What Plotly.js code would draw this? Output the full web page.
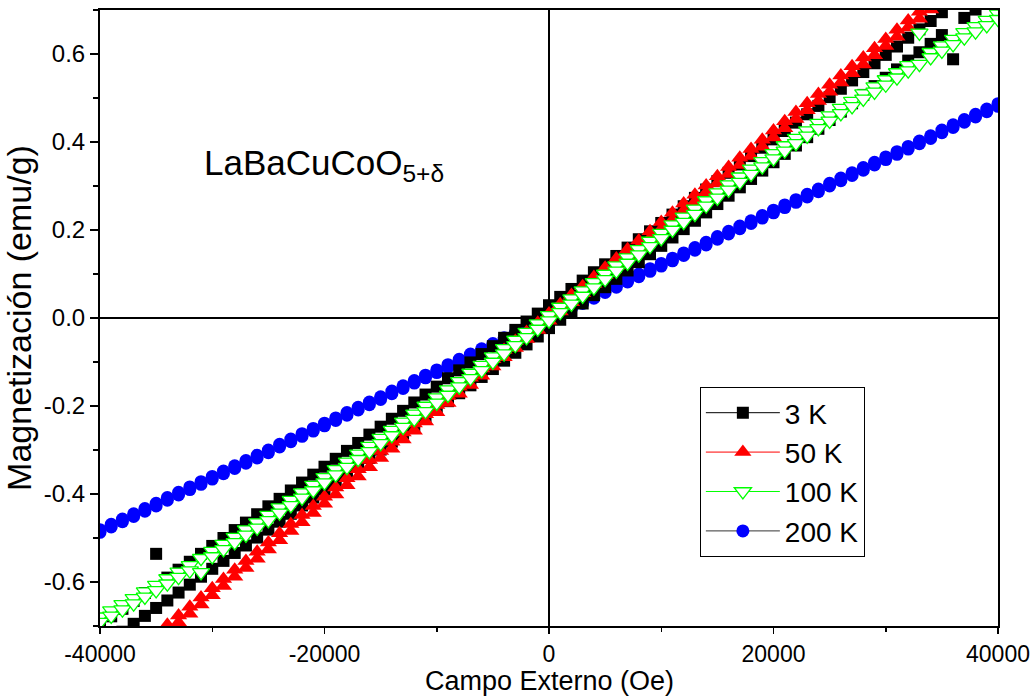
<!DOCTYPE html>
<html>
<head>
<meta charset="utf-8">
<script src="https://cdn.plot.ly/plotly-3.0.1.min.js"></script>
<style>html,body{margin:0;padding:0;background:#fff;}#chart{width:1036px;height:697px;}</style>
</head>
<body>
<div id="chart"></div>
<script>
// Applied field (Oe), ascending
const fieldOe = [-40000,-39000,-38000,-37000,-36000,-35000,-34000,-33000,-32000,-31000,-30000,-29000,-28000,-27000,-26000,-25000,-24000,-23000,-22000,-21000,-20000,-19000,-18000,-17000,-16000,-15000,-14000,-13000,-12000,-11000,-10000,-9000,-8000,-7000,-6000,-5000,-4000,-3000,-2000,-1000,0,1000,2000,3000,4000,5000,6000,7000,8000,9000,10000,11000,12000,13000,14000,15000,16000,17000,18000,19000,20000,21000,22000,23000,24000,25000,26000,27000,28000,29000,30000,31000,32000,33000,34000,35000,36000,37000,38000,39000,40000];

// 3 K: descending-field branch (upper) and ascending-field branch (lower), listed at ascending field
const m3K_down = [-0.696,-0.678,-0.661,-0.643,-0.625,-0.536,-0.590,-0.572,-0.554,-0.536,-0.518,-0.500,-0.482,-0.465,-0.446,-0.428,-0.411,-0.392,-0.374,-0.356,-0.338,-0.320,-0.302,-0.284,-0.265,-0.247,-0.229,-0.211,-0.192,-0.174,-0.156,-0.137,-0.119,-0.101,-0.082,-0.064,-0.045,-0.027,-0.008,0.010,0.029,0.048,0.066,0.085,0.104,0.122,0.141,0.160,0.179,0.197,0.216,0.235,0.254,0.273,0.292,0.311,0.330,0.349,0.368,0.387,0.406,0.425,0.444,0.463,0.482,0.502,0.521,0.540,0.559,0.579,0.598,0.617,0.637,0.656,0.675,0.695,0.714,0.734,0.753,0.773,0.792];
const m3K_up = [-0.748,-0.730,-0.713,-0.695,-0.677,-0.659,-0.642,-0.624,-0.606,-0.588,-0.570,-0.552,-0.534,-0.517,-0.499,-0.481,-0.463,-0.445,-0.426,-0.408,-0.390,-0.372,-0.354,-0.336,-0.318,-0.299,-0.281,-0.263,-0.245,-0.226,-0.208,-0.189,-0.171,-0.153,-0.134,-0.116,-0.097,-0.079,-0.060,-0.042,-0.023,-0.004,0.014,0.033,0.052,0.070,0.089,0.108,0.127,0.145,0.164,0.183,0.202,0.221,0.240,0.259,0.278,0.297,0.316,0.335,0.354,0.373,0.392,0.411,0.430,0.450,0.469,0.488,0.507,0.527,0.546,0.565,0.585,0.604,0.623,0.643,0.588,0.682,0.701,0.721,0.740];

// 50 K
const m50K_down = [-0.822,-0.801,-0.780,-0.760,-0.739,-0.718,-0.697,-0.676,-0.656,-0.635,-0.614,-0.593,-0.572,-0.552,-0.531,-0.510,-0.489,-0.468,-0.448,-0.427,-0.406,-0.385,-0.364,-0.344,-0.323,-0.302,-0.281,-0.260,-0.240,-0.219,-0.198,-0.177,-0.156,-0.136,-0.115,-0.094,-0.073,-0.052,-0.032,-0.011,0.010,0.031,0.052,0.072,0.093,0.114,0.135,0.156,0.176,0.197,0.218,0.239,0.260,0.280,0.301,0.322,0.343,0.364,0.384,0.405,0.426,0.447,0.468,0.488,0.509,0.530,0.551,0.572,0.592,0.613,0.634,0.655,0.676,0.696,0.717,0.738,0.759,0.780,0.800,0.821,0.842];
const m50K_up = [-0.838,-0.817,-0.796,-0.776,-0.755,-0.734,-0.713,-0.692,-0.672,-0.651,-0.630,-0.609,-0.588,-0.568,-0.547,-0.526,-0.505,-0.484,-0.464,-0.443,-0.422,-0.401,-0.380,-0.360,-0.339,-0.318,-0.297,-0.276,-0.256,-0.235,-0.214,-0.193,-0.172,-0.152,-0.131,-0.110,-0.089,-0.068,-0.048,-0.027,-0.006,0.015,0.036,0.056,0.077,0.098,0.119,0.140,0.160,0.181,0.202,0.223,0.244,0.264,0.285,0.306,0.327,0.348,0.368,0.389,0.410,0.431,0.452,0.472,0.493,0.514,0.535,0.556,0.576,0.597,0.618,0.639,0.660,0.680,0.701,0.722,0.743,0.764,0.784,0.805,0.826];

// 100 K
const m100K_down = [-0.679,-0.665,-0.651,-0.637,-0.622,-0.607,-0.592,-0.577,-0.562,-0.546,-0.530,-0.514,-0.498,-0.481,-0.465,-0.448,-0.431,-0.414,-0.397,-0.380,-0.362,-0.344,-0.327,-0.309,-0.291,-0.273,-0.255,-0.236,-0.218,-0.200,-0.181,-0.163,-0.144,-0.125,-0.107,-0.088,-0.069,-0.050,-0.032,-0.013,0.006,0.025,0.044,0.062,0.081,0.100,0.119,0.137,0.156,0.175,0.193,0.212,0.230,0.248,0.267,0.285,0.303,0.321,0.339,0.356,0.374,0.392,0.409,0.426,0.443,0.460,0.477,0.493,0.510,0.526,0.542,0.558,0.574,0.648,0.604,0.619,0.634,0.649,0.663,0.677,0.691];
const m100K_up = [-0.691,-0.677,-0.663,-0.649,-0.634,-0.619,-0.604,-0.589,-0.574,-0.578,-0.542,-0.526,-0.510,-0.493,-0.477,-0.460,-0.443,-0.426,-0.409,-0.392,-0.374,-0.356,-0.339,-0.321,-0.303,-0.285,-0.267,-0.248,-0.230,-0.212,-0.193,-0.175,-0.156,-0.137,-0.119,-0.100,-0.081,-0.062,-0.044,-0.025,-0.006,0.013,0.032,0.050,0.069,0.088,0.107,0.125,0.144,0.163,0.181,0.200,0.218,0.236,0.255,0.273,0.291,0.309,0.327,0.344,0.362,0.380,0.397,0.414,0.431,0.448,0.465,0.481,0.498,0.514,0.530,0.546,0.562,0.577,0.592,0.607,0.622,0.637,0.651,0.665,0.679];

// 200 K
const m200K_down = [-0.481,-0.469,-0.457,-0.445,-0.433,-0.421,-0.408,-0.396,-0.384,-0.372,-0.360,-0.348,-0.336,-0.324,-0.312,-0.300,-0.287,-0.275,-0.263,-0.251,-0.239,-0.227,-0.215,-0.203,-0.191,-0.179,-0.166,-0.154,-0.142,-0.130,-0.118,-0.106,-0.094,-0.082,-0.070,-0.058,-0.045,-0.033,-0.021,-0.009,0.003,0.015,0.027,0.039,0.051,0.064,0.076,0.088,0.100,0.112,0.124,0.136,0.148,0.160,0.172,0.185,0.197,0.209,0.221,0.233,0.245,0.257,0.269,0.281,0.293,0.306,0.318,0.330,0.342,0.354,0.366,0.378,0.390,0.402,0.414,0.427,0.439,0.451,0.463,0.475,0.487];
const m200K_up = [-0.487,-0.475,-0.463,-0.451,-0.439,-0.427,-0.414,-0.402,-0.390,-0.378,-0.366,-0.354,-0.342,-0.330,-0.318,-0.306,-0.293,-0.281,-0.269,-0.257,-0.245,-0.233,-0.221,-0.209,-0.197,-0.185,-0.172,-0.160,-0.148,-0.136,-0.124,-0.112,-0.100,-0.088,-0.076,-0.064,-0.051,-0.039,-0.027,-0.015,-0.003,0.009,0.021,0.033,0.045,0.058,0.070,0.082,0.094,0.106,0.118,0.130,0.142,0.154,0.166,0.179,0.191,0.203,0.215,0.227,0.239,0.251,0.263,0.275,0.287,0.300,0.312,0.324,0.336,0.348,0.360,0.372,0.384,0.396,0.408,0.421,0.433,0.445,0.457,0.469,0.481];

const seriesNames = ['3 K','50 K','100 K','200 K'];
const xTickVals = [-40000,-20000,0,20000,40000];
const yTickVals = [-0.6,-0.4,-0.2,0.0,0.2,0.4,0.6];
const yTickText = ['-0.6','-0.4','-0.2','0.0','0.2','0.4','0.6'];

const FONT = 'Liberation Sans, Arial, sans-serif';

function loop(down, up) {
  const xd = fieldOe.slice().reverse();
  const yd = down.slice().reverse();
  return {x: xd.concat(fieldOe), y: yd.concat(up)};
}

const styles = {
  '3 K':   {marker:{symbol:'square', size:12, color:'#000000'}, line:'#000000'},
  '50 K':  {marker:{symbol:'triangle-up', size:15, color:'#ff0000'}, line:'#ff0000'},
  '100 K': {marker:{symbol:'triangle-down', size:15, color:'#ffffff', line:{color:'#00ff00', width:1.3}}, line:'#00ff00'},
  '200 K': {marker:{symbol:'circle', size:13, color:'#0000ff'}, line:'#333333'}
};
const dataByName = {
  '3 K': loop(m3K_down, m3K_up),
  '50 K': loop(m50K_down, m50K_up),
  '100 K': loop(m100K_down, m100K_up),
  '200 K': loop(m200K_down, m200K_up)
};

const traces = [];
['200 K','3 K','50 K','100 K'].forEach(n => {
  traces.push({
    type:'scatter', mode:'markers', name:n, showlegend:false,
    x: dataByName[n].x, y: dataByName[n].y,
    marker: styles[n].marker, cliponaxis:true
  });
});
seriesNames.forEach((n, i) => {
  traces.push({
    type:'scatter', mode:'lines+markers', name:n, legendgroup:'g'+i, legendrank:i+1,
    x:[null], y:[null],
    marker: styles[n].marker, line:{color:styles[n].line, width:1}
  });
});

const layout = {
  width:1036, height:697,
  margin:{l:100, r:38, t:10, b:71},
  paper_bgcolor:'#ffffff', plot_bgcolor:'#ffffff',
  font:{family:FONT, color:'#000000', size:24},
  showlegend:true,
  legend:{
    x:0.668, y:0.388, xanchor:'left', yanchor:'top',
    bordercolor:'#000000', borderwidth:1, bgcolor:'#ffffff',
    font:{family:FONT, size:28, color:'#000000'},
    itemwidth:74, tracegroupgap:0, traceorder:'grouped'
  },
  xaxis:{
    range:[-40000,40000], tickvals:xTickVals, ticktext:xTickVals.map(String),
    ticks:'outside', ticklen:6, tickwidth:1.5, tickcolor:'#000',
    minor:{dtick:10000, tick0:0, ticks:'outside', ticklen:4, tickwidth:1.5, tickcolor:'#000', showgrid:false},
    showline:true, linecolor:'#000', linewidth:2, mirror:true,
    showgrid:false, zeroline:true, zerolinecolor:'#000', zerolinewidth:2,
    tickfont:{family:FONT, size:23}
  },
  yaxis:{
    range:[-0.7,0.7], tickvals:yTickVals, ticktext:yTickText,
    ticks:'outside', ticklen:8, tickwidth:1.5, tickcolor:'#000',
    minor:{dtick:0.1, tick0:0, ticks:'outside', ticklen:5, tickwidth:1.5, tickcolor:'#000', showgrid:false},
    showline:true, linecolor:'#000', linewidth:2, mirror:true,
    showgrid:false, zeroline:true, zerolinecolor:'#000', zerolinewidth:2,
    tickfont:{family:FONT, size:24},
    title:{text:'Magnetización (emu/g)', font:{family:FONT, size:34}, standoff:6}
  },
  annotations:[{
    xref:'paper', yref:'paper', x:0.114, y:0.748, xanchor:'left', yanchor:'middle',
    text:'LaBaCuCoO<sub>5+δ</sub>', showarrow:false,
    font:{family:FONT, size:35, color:'#000'}
  },{
    xref:'paper', yref:'paper', x:0.5, y:-0.1153, xanchor:'center', yanchor:'bottom',
    text:'Campo Externo (Oe)', showarrow:false, borderpad:0,
    font:{family:FONT, size:27, color:'#000'}
  }]
};

Plotly.newPlot('chart', traces, layout, {displayModeBar:false, staticPlot:true});
</script>
</body>
</html>
